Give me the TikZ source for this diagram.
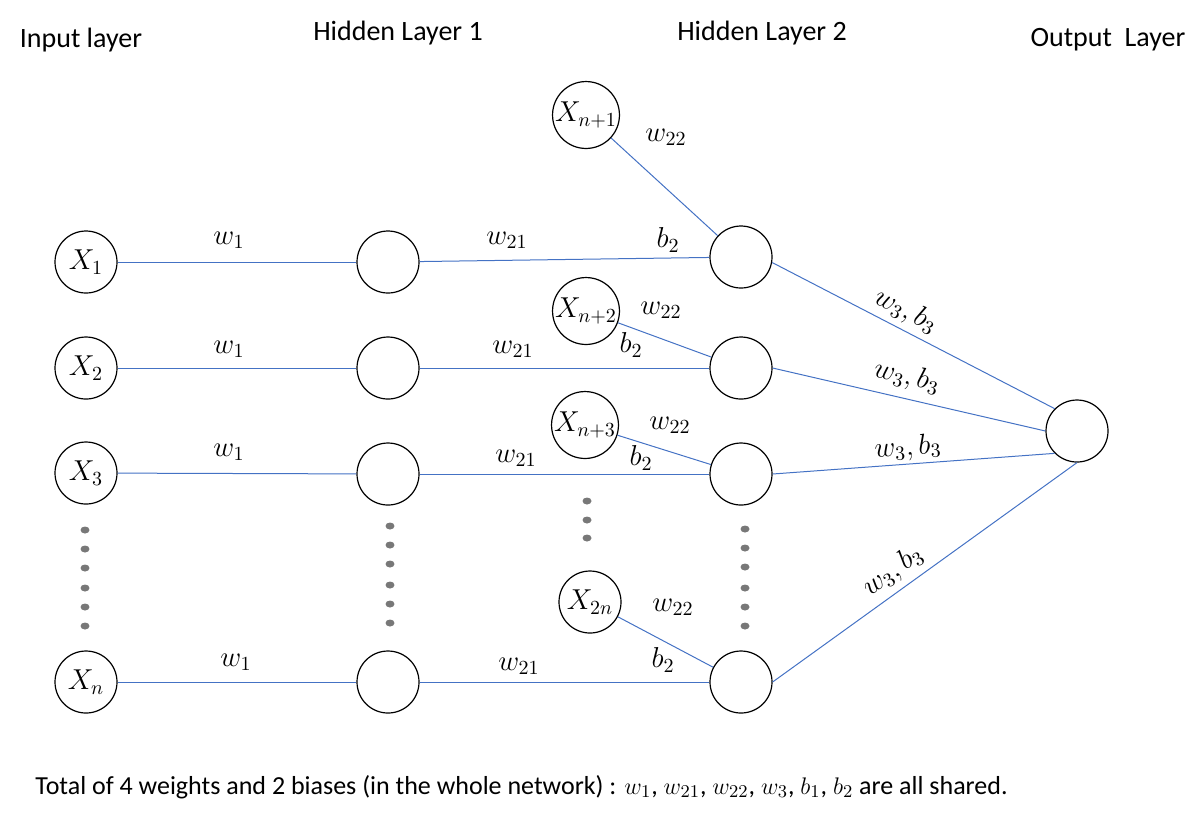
\documentclass[tikz,border=0pt]{standalone}
\usepackage{amsmath}
\usepackage{fontspec}
\setmainfont{Carlito}
\usepackage{tikz}
\usetikzlibrary{shapes}
\definecolor{linkblue}{RGB}{68,114,196}
\definecolor{dotgray}{RGB}{120,120,120}
\tikzstyle{0} = [circle, draw = black, line width = 0.6pt, minimum size = 31pt, inner sep = 0pt, font = \fontsize{14}{16}\selectfont]
\tikzstyle{lab} = [inner sep = 0pt, font = \fontsize{14}{16}\selectfont]
\tikzstyle{link} = [draw = linkblue, line width = 0.5pt]
\tikzstyle{dots} = [fill = dotgray]

\begin{document}
\begin{tikzpicture}[x = 0.5pt, y = -0.5pt, align = center]
            \useasboundingbox (0, 0) rectangle (1204, 837);

            % layer titles
            \node[lab] (t1) at (81, 40) {Input layer};
            \node[lab] (t2) at (398, 33) {Hidden Layer 1};
            \node[lab] (t3) at (762, 33) {Hidden Layer 2};
            \node[lab] (t4) at (1108, 40) {Output\ \ Layer};

            \node[0] (11) at (86, 262) {$X_1$};
            \node[0] (12) at (86, 368) {$X_2$};
            \node[0] (13) at (86, 473) {$X_3$};
            \node[0] (14) at (86, 682) {$X_n$};
            \node[0] (21) at (388, 262) {};
            \node[0] (22) at (388, 368) {};
            \node[0] (23) at (388, 474) {};
            \node[0] (24) at (388, 682) {};
            \node[0] (31) at (586, 115) {$X_{n+1}$};
            \node[0] (32) at (586, 311) {$X_{n+2}$};
            \node[0] (33) at (585, 425) {$X_{n+3}$};
            \node[0] (34) at (590, 602) {$X_{2n}$};
            \node[0] (41) at (741, 257) {};
            \node[0] (42) at (741, 368) {};
            \node[0] (43) at (741, 474) {};
            \node[0] (44) at (741, 682) {};
            \node[0] (51) at (1077, 431) {};

            \path[link] (11) -- (21);
            \path[link] (12) -- (22);
            \path[link] (13) -- (23);
            \path[link] (14) -- (24);
            \path[link] (21) -- (41);
            \path[link] (22) -- (42);
            \path[link] (23) -- (43);
            \path[link] (24) -- (44);
            \path[link] (31) -- (41);
            \path[link] (32) -- (42);
            \path[link] (33) -- (43);
            \path[link] (34) -- (44);
            \path[link] (41.-10) -- (51.135);
            \path[link] (42.east) -- (51.west);
            \path[link] (43.east) -- (51.225);
            \path[link] (44.east) -- (51.south);

            % weights and biases
            \node[lab] (w11) at (229, 240) {$w_1$};
            \node[lab] (w12) at (229, 349) {$w_1$};
            \node[lab] (w13) at (229, 452) {$w_1$};
            \node[lab] (w14) at (236, 662) {$w_1$};
            \node[lab] (w21) at (507, 240) {$w_{21}$};
            \node[lab] (w22) at (513, 349) {$w_{21}$};
            \node[lab] (w23) at (516, 458) {$w_{21}$};
            \node[lab] (w24) at (519, 666) {$w_{21}$};
            \node[lab] (v21) at (666, 137) {$w_{22}$};
            \node[lab] (v22) at (661, 310) {$w_{22}$};
            \node[lab] (v23) at (670, 425) {$w_{22}$};
            \node[lab] (v24) at (673, 607) {$w_{22}$};
            \node[lab] (b21) at (668, 240) {$b_2$};
            \node[lab] (b22) at (631, 345) {$b_2$};
            \node[lab] (b23) at (641, 458) {$b_2$};
            \node[lab] (b24) at (663, 660) {$b_2$};
            \node[lab, rotate = -27] (w31) at (906, 311) {$w_3, b_3$};
            \node[lab, rotate = -13] (w32) at (907, 377) {$w_3, b_3$};
            \node[lab, rotate = 4] (w33) at (908, 448) {$w_3, b_3$};
            \node[lab, rotate = 35] (w34) at (893, 571) {$w_3, b_3$};

            % dots
            \path[dots] (85, 530) ellipse [x radius = 2.25pt, y radius = 1.75pt] (85, 549) ellipse [x radius = 2.25pt, y radius = 1.75pt] (85, 568) ellipse [x radius = 2.25pt, y radius = 1.75pt] (85, 588) ellipse [x radius = 2.25pt, y radius = 1.75pt] (85, 607) ellipse [x radius = 2.25pt, y radius = 1.75pt] (85, 626) ellipse [x radius = 2.25pt, y radius = 1.75pt];
            \path[dots] (390, 526) ellipse [x radius = 2.25pt, y radius = 1.75pt] (390, 545) ellipse [x radius = 2.25pt, y radius = 1.75pt] (390, 564) ellipse [x radius = 2.25pt, y radius = 1.75pt] (390, 585) ellipse [x radius = 2.25pt, y radius = 1.75pt] (390, 604) ellipse [x radius = 2.25pt, y radius = 1.75pt] (390, 623) ellipse [x radius = 2.25pt, y radius = 1.75pt];
            \path[dots] (587, 501) ellipse [x radius = 2.25pt, y radius = 1.75pt] (587, 520) ellipse [x radius = 2.25pt, y radius = 1.75pt] (587, 538) ellipse [x radius = 2.25pt, y radius = 1.75pt];
            \path[dots] (745, 529) ellipse [x radius = 2.25pt, y radius = 1.75pt] (745, 548) ellipse [x radius = 2.25pt, y radius = 1.75pt] (745, 567) ellipse [x radius = 2.25pt, y radius = 1.75pt] (745, 588) ellipse [x radius = 2.25pt, y radius = 1.75pt] (745, 607) ellipse [x radius = 2.25pt, y radius = 1.75pt] (745, 626) ellipse [x radius = 2.25pt, y radius = 1.75pt];

            \node[lab, anchor = west, font = \fontsize{13}{15}\selectfont] (note) at (35, 787) {Total of 4 weights and 2 biases (in the whole network) : $w_1$, $w_{21}$, $w_{22}$, $w_3$, $b_1$, $b_2$ are all shared.};
        \end{tikzpicture}
\end{document}
